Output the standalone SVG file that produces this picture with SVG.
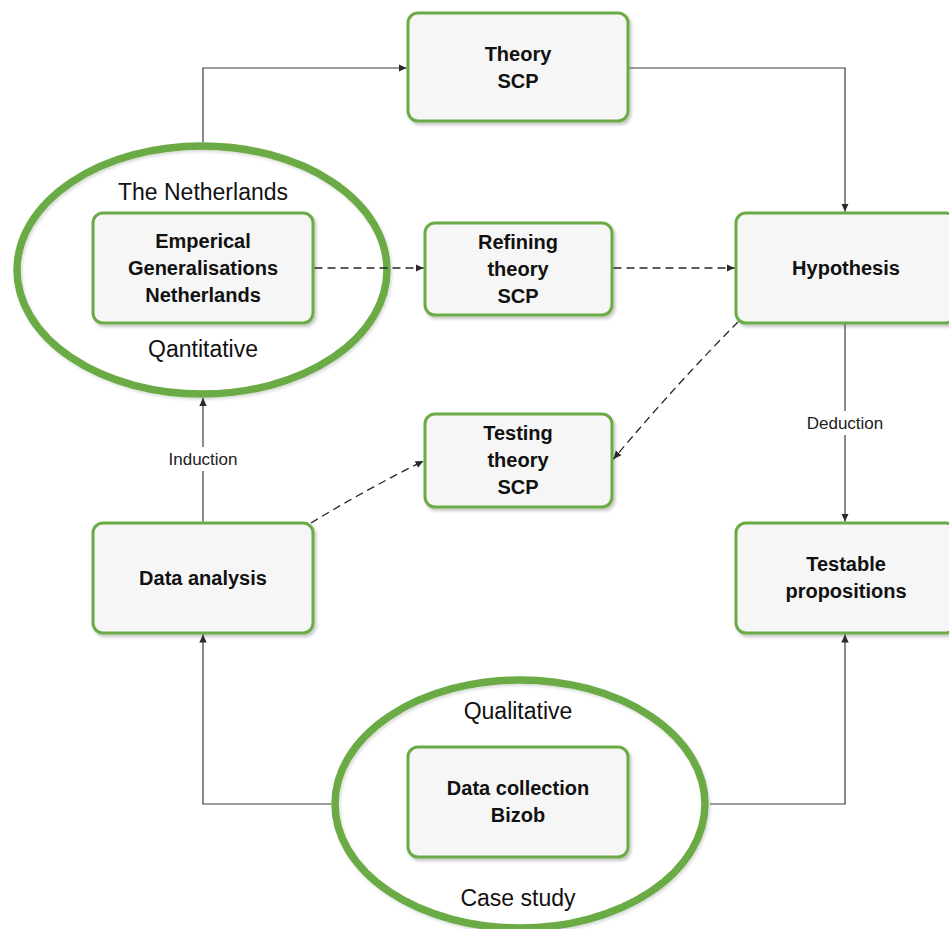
<svg xmlns="http://www.w3.org/2000/svg" width="949" height="929" viewBox="0 0 949 929">
  <style>
    .box { fill: #f6f6f6; stroke: #6aab45; stroke-width: 3; filter: url(#shadow); }
    .ring { fill: none; stroke: #6aab45; stroke-width: 7.5; filter: url(#soft); }
    .title { font-family: "Liberation Sans", Arial, sans-serif; font-weight: bold; font-size: 20px; fill: #111; text-anchor: middle; }
    .note { font-family: "Liberation Sans", Arial, sans-serif; font-size: 23px; fill: #111; text-anchor: middle; }
    .edge-label { font-family: "Liberation Sans", Arial, sans-serif; font-size: 17px; fill: #222; text-anchor: middle; }
    .link { fill: none; stroke: #3c3c3c; stroke-width: 1.2; }
    .dashed { stroke: #262626; stroke-width: 1.3; stroke-dasharray: 8 5; }
  </style>
  <defs>
    <filter id="shadow" x="-10%" y="-10%" width="125%" height="130%">
      <feDropShadow dx="2" dy="2.5" stdDeviation="1.5" flood-color="#000" flood-opacity="0.22"/>
    </filter>
    <filter id="soft" x="-5%" y="-5%" width="112%" height="115%">
      <feDropShadow dx="1.5" dy="2" stdDeviation="1.5" flood-color="#000" flood-opacity="0.15"/>
    </filter>
    <marker id="arrow" viewBox="0 0 8 8" refX="8" refY="4" markerWidth="8" markerHeight="8" markerUnits="userSpaceOnUse" orient="auto">
      <path d="M0,0.3 L8,4 L0,7.7 Z" fill="#2a2a2a"/>
    </marker>
  </defs>

  <rect width="949" height="929" fill="#ffffff"/>

  <!-- Quantitative context: The Netherlands -->
  <g id="netherlands">
    <ellipse class="ring" cx="202" cy="270" rx="185" ry="124"/>
    <text class="note" x="203" y="200">The Netherlands</text>
    <text class="note" x="203" y="357">Qantitative</text>
  </g>

  <g id="emperical">
    <rect class="box" x="93" y="213" width="220" height="110" rx="10"/>
    <text class="title" x="203" y="248">Emperical</text>
    <text class="title" x="203" y="275">Generalisations</text>
    <text class="title" x="203" y="302">Netherlands</text>
  </g>

  <!-- Qualitative context: case study -->
  <g id="case-study">
    <ellipse class="ring" cx="520" cy="804" rx="185" ry="124"/>
    <text class="note" x="518" y="719">Qualitative</text>
    <text class="note" x="518" y="906">Case study</text>
  </g>

  <g id="data-collection">
    <rect class="box" x="408" y="747" width="220" height="110" rx="10"/>
    <text class="title" x="518" y="795">Data collection</text>
    <text class="title" x="518" y="822">Bizob</text>
  </g>

  <g id="theory">
    <rect class="box" x="408" y="13" width="220" height="108" rx="10"/>
    <text class="title" x="518" y="61">Theory</text>
    <text class="title" x="518" y="88">SCP</text>
  </g>

  <g id="refining">
    <rect class="box" x="425" y="223" width="187" height="92" rx="10"/>
    <text class="title" x="518" y="249">Refining</text>
    <text class="title" x="518" y="276">theory</text>
    <text class="title" x="518" y="303">SCP</text>
  </g>

  <g id="hypothesis">
    <rect class="box" x="736" y="213" width="220" height="110" rx="10"/>
    <text class="title" x="846" y="275">Hypothesis</text>
  </g>

  <g id="testing">
    <rect class="box" x="425" y="414" width="187" height="93" rx="10"/>
    <text class="title" x="518" y="440">Testing</text>
    <text class="title" x="518" y="467">theory</text>
    <text class="title" x="518" y="494">SCP</text>
  </g>

  <g id="data-analysis">
    <rect class="box" x="93" y="523" width="220" height="110" rx="10"/>
    <text class="title" x="203" y="585">Data analysis</text>
  </g>

  <g id="testable">
    <rect class="box" x="736" y="523" width="220" height="110" rx="10"/>
    <text class="title" x="846" y="571">Testable</text>
    <text class="title" x="846" y="598">propositions</text>
  </g>

  <g id="connectors">
    <!-- solid cycle -->
    <path class="link" d="M203,142 V68 H406.5" marker-end="url(#arrow)"/>
    <path class="link" d="M629.5,68 H845 V211.5" marker-end="url(#arrow)"/>
    <path class="link" d="M845,324.5 V521.5" marker-end="url(#arrow)"/>
    <path class="link" d="M710,804 H845 V634.5" marker-end="url(#arrow)"/>
    <path class="link" d="M331,804 H203 V634.5" marker-end="url(#arrow)"/>
    <path class="link" d="M203,521.5 V398" marker-end="url(#arrow)"/>

    <!-- dashed refinement and testing paths -->
    <path class="link dashed" d="M314.5,268 H423.5" marker-end="url(#arrow)"/>
    <path class="link dashed" d="M613.5,268 H734.5" marker-end="url(#arrow)"/>
    <path class="link dashed" d="M738,322 Q680,380 613.5,459" marker-end="url(#arrow)"/>
    <path class="link dashed" d="M311,523 Q365,490 423.5,461" marker-end="url(#arrow)"/>

    <!-- edge labels -->
    <rect x="160" y="447" width="86" height="24" fill="#ffffff"/>
    <text class="edge-label" x="203" y="465">Induction</text>
    <rect x="801" y="411" width="88" height="24" fill="#ffffff"/>
    <text class="edge-label" x="845" y="429">Deduction</text>
  </g>
</svg>
